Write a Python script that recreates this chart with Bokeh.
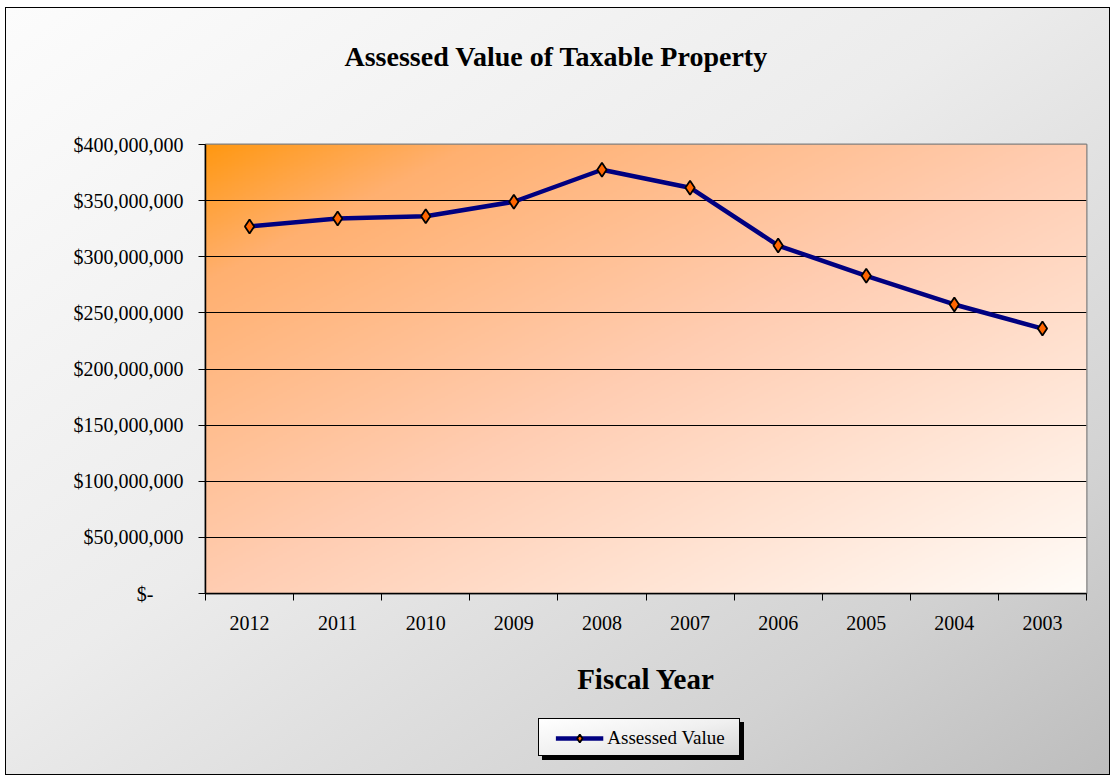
import numpy as np
from bokeh.plotting import figure
from bokeh.layouts import column, row
from bokeh.models import (FixedTicker, NumeralTickFormatter, Legend, LegendItem,
                          Title, InlineStyleSheet, Spacer)
from bokeh.embed import file_html
from bokeh.resources import INLINE

# ---- data ----
years = ["2012", "2011", "2010", "2009", "2008", "2007", "2006", "2005", "2004", "2003"]
assessed_value = [327e6, 334e6, 336e6, 349e6, 377.5e6, 361.5e6, 310e6, 283e6, 257.5e6, 236e6]
y_ticks = [0, 50e6, 100e6, 150e6, 200e6, 250e6, 300e6, 350e6, 400e6]
series_name = "Assessed Value"

xs = [i + 0.5 for i in range(len(years))]
FONT = "Liberation Serif"
LINE_COLOR = "#000080"
MARK_FILL = "#FF6600"

outer_css = InlineStyleSheet(css="""
:host {
  margin-left: 5px;
  margin-top: 7px;
  border: 1px solid #000;
  background: linear-gradient(to bottom right, #fcfcfc 0%, #ececec 45%, #d2d2d2 80%, #bdbdbd 100%);
}
""")

L, R, T, B = 199, 23, 136, 125

p = figure(frame_width=881, frame_height=449, output_backend="svg", toolbar_location=None,
           x_range=(0, len(years)), y_range=(0, 400e6),
           min_border_left=L, min_border_right=R, min_border_top=T, min_border_bottom=B)
p.border_fill_alpha = 0
p.background_fill_alpha = 0
p.outline_line_color = "#808080"
p.outline_line_width = 2

# ---- plot-area gradient (orange corner -> white) ----
n = 240
u = np.linspace(0, 1, n)[None, :]
v = 1 - np.linspace(0, 1, n)[:, None]
t = (u + v) / 2
stops = [0.0, 0.15, 0.5, 1.0]
rr = np.full_like(t, 255.0)
gg = np.interp(t, stops, [152, 176, 205, 252])
bb = np.interp(t, stops, [18, 112, 178, 248])
img = np.empty((n, n), dtype=np.uint32)
view = img.view(dtype=np.uint8).reshape((n, n, 4))
view[:, :, 0] = rr.astype(np.uint8)
view[:, :, 1] = gg.astype(np.uint8)
view[:, :, 2] = bb.astype(np.uint8)
view[:, :, 3] = 255
p.image_rgba(image=[img], x=0, y=0, dw=len(years), dh=400e6, level="image")

# ---- grid ----
p.xgrid.visible = False
p.ygrid.ticker = FixedTicker(ticks=y_ticks)
p.ygrid.grid_line_color = "#000000"
p.ygrid.grid_line_width = 1

# ---- series ----
p.line(xs, assessed_value, line_color=LINE_COLOR, line_width=4.5)
p.scatter(xs, assessed_value, marker="diamond", size=14, fill_color=MARK_FILL,
          line_color="#000000", line_width=1.8)

# ---- x axis ----
xa = p.xaxis[0]
xa.ticker = FixedTicker(ticks=xs, minor_ticks=list(range(len(years) + 1)))
xa.major_label_overrides = {x: y for x, y in zip(xs, years)}
xa.major_tick_out = 0
xa.major_tick_in = 0
xa.minor_tick_out = 7
xa.minor_tick_in = 0
xa.minor_tick_line_color = "#000000"
xa.axis_line_color = "#000000"
xa.axis_line_width = 1.5
xa.major_label_text_font = FONT
xa.major_label_text_font_size = "20px"
xa.major_label_text_color = "#000000"
xa.major_label_standoff = 15
xa.axis_label = "Fiscal Year"
xa.axis_label_text_font = FONT
xa.axis_label_text_font_style = "bold"
xa.axis_label_text_font_size = "29px"
xa.axis_label_text_color = "#000000"
xa.axis_label_standoff = 30

# ---- y axis ----
ya = p.yaxis[0]
ya.ticker = FixedTicker(ticks=y_ticks)
ya.formatter = NumeralTickFormatter(format="$0,0")
ya.major_label_overrides = {0: "$-" + "\u00a0" * 6}
ya.major_tick_out = 7
ya.major_tick_in = 0
ya.major_tick_line_color = "#000000"
ya.axis_line_color = "#000000"
ya.axis_line_width = 1.5
ya.major_label_text_font = FONT
ya.major_label_text_font_size = "20px"
ya.major_label_text_color = "#000000"
ya.major_label_standoff = 15

# ---- title (spacer block next to the frame, real title above it) ----
p.add_layout(Title(text="\u00a0", text_font_size="10px", standoff=60), "above")
p.add_layout(Title(text="Assessed Value of Taxable Property", align="left", offset=139,
                   text_font=FONT, text_font_style="bold", text_font_size="28px",
                   text_color="#000000", standoff=0), "above")

# ---- legend box (its own small figure under the chart) ----
legend_css = InlineStyleSheet(css="""
:host {
  border: 1px solid #000;
  box-shadow: 4px 4px 0 #000;
  background: linear-gradient(to bottom right, #ffffff 0%, #f0f0f0 50%, #d6d6d6 100%);
}
""")
f2 = figure(width=202, height=38, output_backend="svg", toolbar_location=None,
            x_range=(-1e9, -1e9 + 1), y_range=(-1e9, -1e9 + 1),
            x_axis_location=None, y_axis_location=None,
            min_border_left=0, min_border_right=0, min_border_top=0, min_border_bottom=0,
            stylesheets=[legend_css])
f2.grid.visible = False
f2.outline_line_color = None
f2.border_fill_alpha = 0
f2.background_fill_alpha = 0
# same series drawn here only to supply legend glyphs (out of this box's view)
lg_line = f2.line(xs, assessed_value, line_color=LINE_COLOR, line_width=4.5)
lg_pts = f2.scatter(xs, assessed_value, marker="diamond", size=13, fill_color=MARK_FILL,
                    line_color="#000000", line_width=1.8)
legend = Legend(items=[LegendItem(label=series_name, renderers=[lg_line, lg_pts])],
                location="center", orientation="horizontal",
                label_text_font=FONT, label_text_font_size="19px", label_text_color="#000000",
                border_line_color=None, background_fill_alpha=0,
                glyph_width=48, glyph_height=20, padding=8, margin=0, label_standoff=4)
f2.add_layout(legend, "center")

layout = column(p, row(Spacer(width=532, height=38), f2), Spacer(width=10, height=18),
                stylesheets=[outer_css])

open("out.html", "w").write(file_html(layout, INLINE))
